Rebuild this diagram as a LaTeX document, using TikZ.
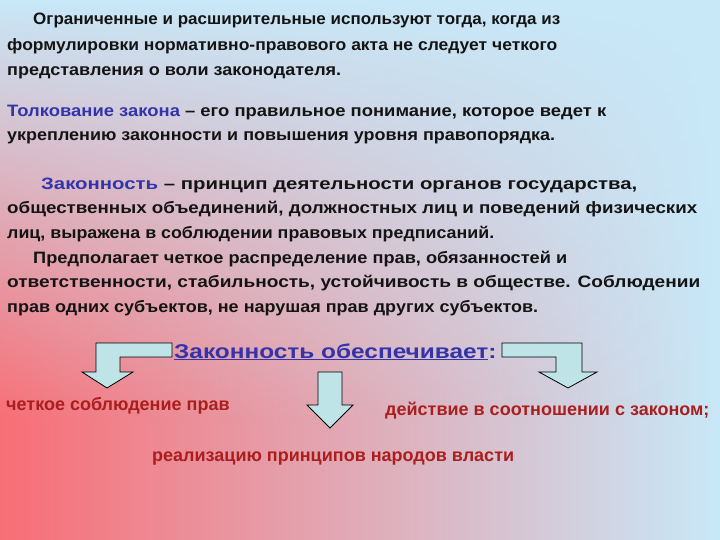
\documentclass[tikz,border=0pt]{standalone}
\usepackage{fontspec}
\usepackage{graphicx}
\usetikzlibrary{fadings}
\setmainfont{Liberation Sans}
\newcommand{\fitw}[2]{\resizebox{#1pt}{\height}{#2}}
\begin{document}
\begin{tikzpicture}[x=1pt,y=-1pt,
  tl/.style={anchor=base west,inner sep=0pt,font=\bfseries\fontsize{16.5}{18}\selectfont,text={rgb,255:red,20;green,20;blue,20}},
  rl/.style={anchor=base west,inner sep=0pt,font=\bfseries\fontsize{18}{18}\selectfont,text={rgb,255:red,170;green,30;blue,30}},
  arr/.style={draw=black,line width=0.8pt,fill={rgb,255:red,190;green,228;blue,232},line join=miter}]
\definecolor{bgtop}{RGB}{200,232,248}
\definecolor{bgbot}{RGB}{248,110,118}
\definecolor{tblue}{RGB}{52,52,170}
\useasboundingbox (0,0) rectangle (720,540);
\shade[left color=bgbot,right color=bgtop] (0,0) rectangle (720,540);
\fill[bgtop,path fading=south] (0,0) rectangle (720,420);
\node[tl] (l1) at (33,25) {\fitw{527}{Ограниченные и расширительные используют тогда, когда из}};
\node[tl] (l2) at (7,51) {\fitw{550}{формулировки нормативно-правового акта не следует четкого}};
\node[tl] (l3) at (7,76) {\fitw{334}{представления о воли законодателя.}};
\node[tl] (l4) at (7,117) {\fitw{599}{\textcolor{tblue}{Толкование закона} – его правильное понимание, которое ведет к}};
\node[tl] (l5) at (7,141) {\fitw{548}{укреплению законности и повышения уровня правопорядка.}};
\node[tl] (l6) at (41,190) {\fitw{596}{\textcolor{tblue}{Законность} – принцип деятельности органов государства,}};
\node[tl] (l7) at (7,214) {\fitw{690}{общественных объединений, должностных лиц и поведений физических}};
\node[tl] (l8) at (7,238) {\fitw{487}{лиц, выражена в соблюдении правовых предписаний.}};
\node[tl] (l9) at (33,263) {\fitw{534}{Предполагает четкое распределение прав, обязанностей и}};
\node[tl] (l10) at (7,287) {\fitw{693}{ответственности, стабильность, устойчивость в обществе. Соблюдении}};
\node[tl] (l11) at (7,312) {\fitw{531}{прав одних субъектов, не нарушая прав других субъектов.}};
\node[anchor=base west,inner sep=0pt,font=\bfseries\fontsize{20}{22}\selectfont,text=tblue] (t) at (174,358) {\scalebox{1.22}[1]{\underline{Законность обеспечивает}:}};
\draw[arr] (172,343) -- (96,343) -- (96,372) -- (82,372) -- (107,388) -- (133,372) -- (120,372) -- (120,357) -- (172,357) -- cycle;
\draw[arr] (318,372) -- (342,372) -- (342,405) -- (353,405) -- (330,428) -- (307,405) -- (318,405) -- cycle;
\draw[arr] (502,343) -- (582,343) -- (582,372) -- (597,372) -- (568,388) -- (539,372) -- (556,372) -- (556,357) -- (502,357) -- cycle;
\node[rl] (a) at (6,410) {четкое соблюдение прав};
\node[rl] (b) at (385,415) {действие в соотношении с законом;};
\node[rl] (c) at (152,461) {реализацию принципов народов власти};
\end{tikzpicture}
\end{document}
